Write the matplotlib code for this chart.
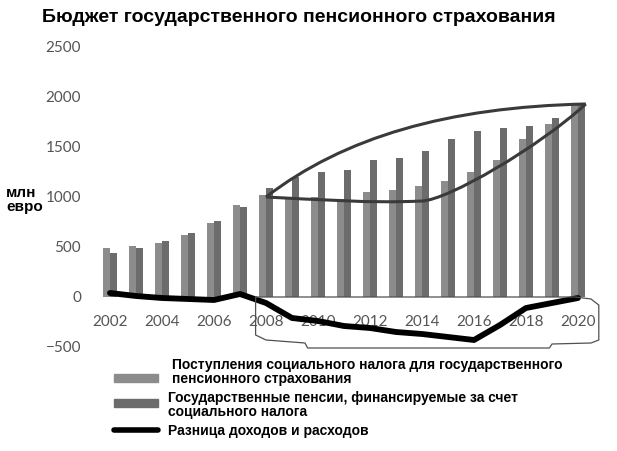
import matplotlib.pyplot as plt
from matplotlib.patches import Rectangle, PathPatch
from matplotlib.path import Path
from matplotlib.lines import Line2D
import numpy as np

years = list(range(2002, 2021))
# social tax revenue for state pension insurance (light bars)
revenue = [490, 510, 540, 620, 740, 920, 1020, 990, 1000, 980, 1050, 1070,
           1110, 1160, 1250, 1370, 1580, 1730, 1920]
# state pensions financed from social tax (dark bars)
pensions = [440, 490, 560, 640, 760, 900, 1090, 1200, 1250, 1270, 1370, 1390,
            1460, 1580, 1660, 1690, 1710, 1790, 1920]
# difference between income and expenses (black line)
difference = [40, 10, -10, -20, -30, 30, -60, -210, -240, -290, -310, -350,
              -370, -400, -430, -280, -110, -60, -10]

tick_years = list(range(2002, 2021, 2))
y_ticks = [-500, 0, 500, 1000, 1500, 2000, 2500]

# hand drawn outlines on top of the chart (bezier control points)
lens_upper = [(2008, 1000), (2011, 1600), (2015, 1900), (2020.3, 1930)]
lens_lower = [(2008, 1000), (2010, 975), (2012, 935), (2014, 960),
              (2015, 970), (2018.5, 1500), (2020.3, 1930)]
box_x = [2007.6, 2007.6, 2008.0, 2009.5, 2009.6, 2018.9, 2019.0, 2020.5,
         2020.8, 2020.8, 2020.5, 2019.9, 2007.6]
box_y = [0, -380, -430, -460, -510, -510, -470, -460, -430, -80, -20, 0, 0]

light = '#8c8c8c'
dark = '#6c6c6c'
tick_color = '#555555'
tick_font = 'Lato'
bold_font = 'Liberation Sans'

fig = plt.figure(figsize=(6.17, 4.51), dpi=100)
ax = fig.add_axes([95 / 617, 1 - 347 / 451, 510 / 617, 300 / 451])

x = np.array(years, dtype=float)
w = 0.28
ax.bar(x - w / 2, revenue, width=w, color=light, zorder=2)
ax.bar(x + w / 2, pensions, width=w, color=dark, zorder=2)
ax.plot(x, difference, color='black', lw=4.2, solid_capstyle='round', zorder=4)


def curve(points):
    codes = [Path.MOVETO] + [Path.CURVE4] * (len(points) - 1)
    return PathPatch(Path(points, codes), fill=False, edgecolor='#3a3a3a',
                     lw=2.2, zorder=5)


ax.add_patch(curve(lens_upper))
ax.add_patch(curve(lens_lower))
ax.plot(box_x, box_y, color='#505050', lw=0.9, zorder=5, clip_on=False)

ax.set_xlim(2002 - 15 / 26, 2002 + 495 / 26)
ax.set_ylim(-500, 2500)
ax.set_yticks(y_ticks)
ax.set_xticks(tick_years)
ax.set_xticklabels([str(t) for t in tick_years])
for s in ax.spines.values():
    s.set_visible(False)
ax.spines['bottom'].set_position(('data', 0))
ax.tick_params(axis='both', length=0, colors=tick_color, labelsize=11)
ax.tick_params(axis='y', pad=10)
ax.tick_params(axis='x', pad=13)
for lbl in ax.get_xticklabels() + ax.get_yticklabels():
    lbl.set_fontfamily(tick_font)

fig.text(42 / 617, 1 - 17 / 451, 'Бюджет государственного пенсионного страхования',
         fontsize=14, fontweight='bold', family=bold_font, va='center', ha='left')
fig.text(6 / 617, 1 - 200 / 451, 'млн\nевро', fontsize=11, fontweight='bold',
         family=bold_font, va='center', ha='left', linespacing=1.0)

# legend drawn by hand
legend_items = [
    ('patch', light, 378, 172, 'Поступления социального налога для государственного\nпенсионного страхования', 372),
    ('patch', dark, 403, 168, 'Государственные пенсии, финансируемые за счет\nсоциального налога', 405),
    ('line', 'black', 430, 168, 'Разница доходов и расходов', 431),
]
for kind, color, yc, xt, label, yt in legend_items:
    if kind == 'patch':
        fig.add_artist(Rectangle((114 / 617, 1 - (yc + 4) / 451), 44 / 617, 8 / 451,
                                 transform=fig.transFigure, color=color))
    else:
        fig.add_artist(Line2D([114 / 617, 158 / 617], [1 - yc / 451] * 2,
                              transform=fig.transFigure, color=color, lw=4,
                              solid_capstyle='round'))
    fig.text(xt / 617, 1 - yt / 451, label, fontsize=10, fontweight='bold',
             family=bold_font, va='center', ha='left', linespacing=1.05)

fig.savefig('out.png', dpi=100)
